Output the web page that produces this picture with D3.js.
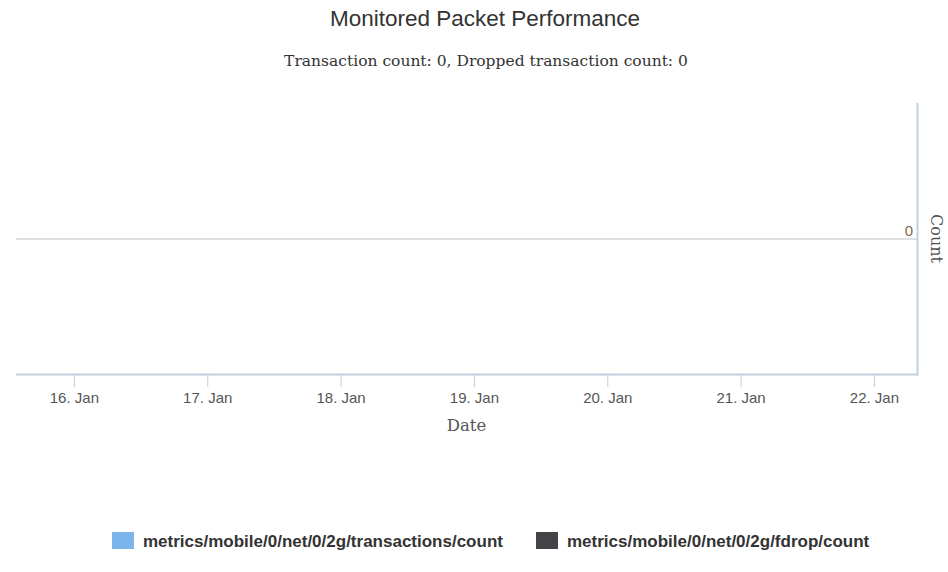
<!DOCTYPE html>
<html>
<head>
<meta charset="utf-8">
<script src="https://cdn.jsdelivr.net/npm/d3@7"></script>
<style>
  body { margin: 0; background: #fff; }
</style>
</head>
<body>
<div id="chart"></div>
<script>
// chart data
const TITLE = "Monitored Packet Performance";
const SUBTITLE = "Transaction count: 0, Dropped transaction count: 0";
const SERIES_NAMES = ["metrics/mobile/0/net/0/2g/transactions/count", "metrics/mobile/0/net/0/2g/fdrop/count"];
const SERIES_COLORS = ["#7cb5ec", "#434348"];
const TRANSACTIONS = [];   // no points reported
const FDROPS = [];
const X_START = new Date(2015, 0, 15, 13, 35);
const X_END = new Date(2015, 0, 22, 7, 45);
const X_TICKS = [16, 17, 18, 19, 20, 21, 22].map((d) => new Date(2015, 0, d));
const Y_TICKS = [0];

// frame
const FRAME_WIDTH = 948;
const FRAME_HEIGHT = 572;
const PLOT = {left: 16, right: 917, top: 103, bottom: 374};

const svg = d3.select("#chart")
  .append("svg")
    .attr("width", FRAME_WIDTH)
    .attr("height", FRAME_HEIGHT);

const SANS = "'Liberation Sans', Arial, sans-serif";
const SERIF = "'DejaVu Serif', 'Liberation Serif', serif";

// titles
svg.append("text")
  .attr("x", 485).attr("y", 26)
  .attr("text-anchor", "middle")
  .style("font-family", SANS).style("font-size", "22.5px").style("fill", "#333")
  .text(TITLE);

svg.append("text")
  .attr("x", 486).attr("y", 66)
  .attr("text-anchor", "middle")
  .style("font-family", SERIF).style("font-size", "15.5px").style("fill", "#333")
  .text(SUBTITLE);

// scales
const x = d3.scaleTime()
  .domain([X_START, X_END])
  .range([PLOT.left, PLOT.right]);

const y = d3.scaleLinear()
  .domain([-1, 1])
  .range([PLOT.bottom, PLOT.top]);

// grid lines
svg.append("g")
  .selectAll("line")
  .data(Y_TICKS)
  .enter()
  .append("line")
    .attr("x1", PLOT.left).attr("x2", PLOT.right)
    .attr("y1", (d) => y(d) + 0.5).attr("y2", (d) => y(d) + 0.5)
    .attr("stroke", "#c0c0c0").attr("stroke-width", 1);

// x axis
const xAxis = svg.append("g")
  .attr("transform", "translate(0," + PLOT.bottom + ")")
  .call(d3.axisBottom(x)
    .tickValues(X_TICKS)
    .tickSize(13)
    .tickPadding(5)
    .tickFormat((d) => d3.timeFormat("%-d")(d) + ". " + d3.timeFormat("%b")(d)));

xAxis.select(".domain")
  .attr("d", "M" + PLOT.left + ",0.5H" + (PLOT.right + 1))
  .attr("stroke", "#c0d0e0").attr("stroke-width", 2);
xAxis.selectAll(".tick line").attr("stroke", "#c0d0e0");
xAxis.selectAll(".tick text")
  .style("font-family", SANS).style("font-size", "15px").style("fill", "#555");

svg.append("text")
  .attr("x", (PLOT.left + PLOT.right) / 2).attr("y", 431)
  .attr("text-anchor", "middle")
  .style("font-family", SERIF).style("font-size", "16.5px").style("fill", "#555")
  .text("Date");

// right y axis
svg.append("line")
  .attr("x1", PLOT.right + 0.5).attr("x2", PLOT.right + 0.5)
  .attr("y1", PLOT.top).attr("y2", PLOT.bottom + 1.5)
  .attr("stroke", "#c0d0e0").attr("stroke-width", 2);

svg.append("g")
  .selectAll("text")
  .data(Y_TICKS)
  .enter()
  .append("text")
    .attr("x", PLOT.right - 4)
    .attr("y", (d) => y(d) - 3)
    .attr("text-anchor", "end")
    .style("font-family", SANS).style("font-size", "15px").style("fill", "#7a6a52")
    .text((d) => d);

svg.append("text")
  .attr("transform", "translate(931," + y(0) + ") rotate(90)")
  .attr("text-anchor", "middle")
  .style("font-family", SERIF).style("font-size", "16px").style("fill", "#555")
  .text("Count");

// series lines (empty)
const line = d3.line()
  .x((d) => x(d.date))
  .y((d) => y(d.value));

[TRANSACTIONS, FDROPS].forEach((data, i) => {
  svg.append("path")
    .datum(data)
    .attr("fill", "none")
    .attr("stroke", SERIES_COLORS[i])
    .attr("stroke-width", 2)
    .attr("d", line);
});

// legend
const LEGEND_X = [112, 536];
const legend = svg.append("g")
  .selectAll("g")
  .data(SERIES_NAMES)
  .enter()
  .append("g")
    .attr("transform", (d, i) => "translate(" + LEGEND_X[i] + ",532)");

legend.append("rect")
  .attr("width", 22).attr("height", 17)
  .attr("fill", (d, i) => SERIES_COLORS[i]);

legend.append("text")
  .attr("x", 31).attr("y", 15)
  .style("font-family", SANS).style("font-size", "17px").style("font-weight", "bold")
  .style("fill", "#333")
  .text((d) => d);
</script>
</body>
</html>
